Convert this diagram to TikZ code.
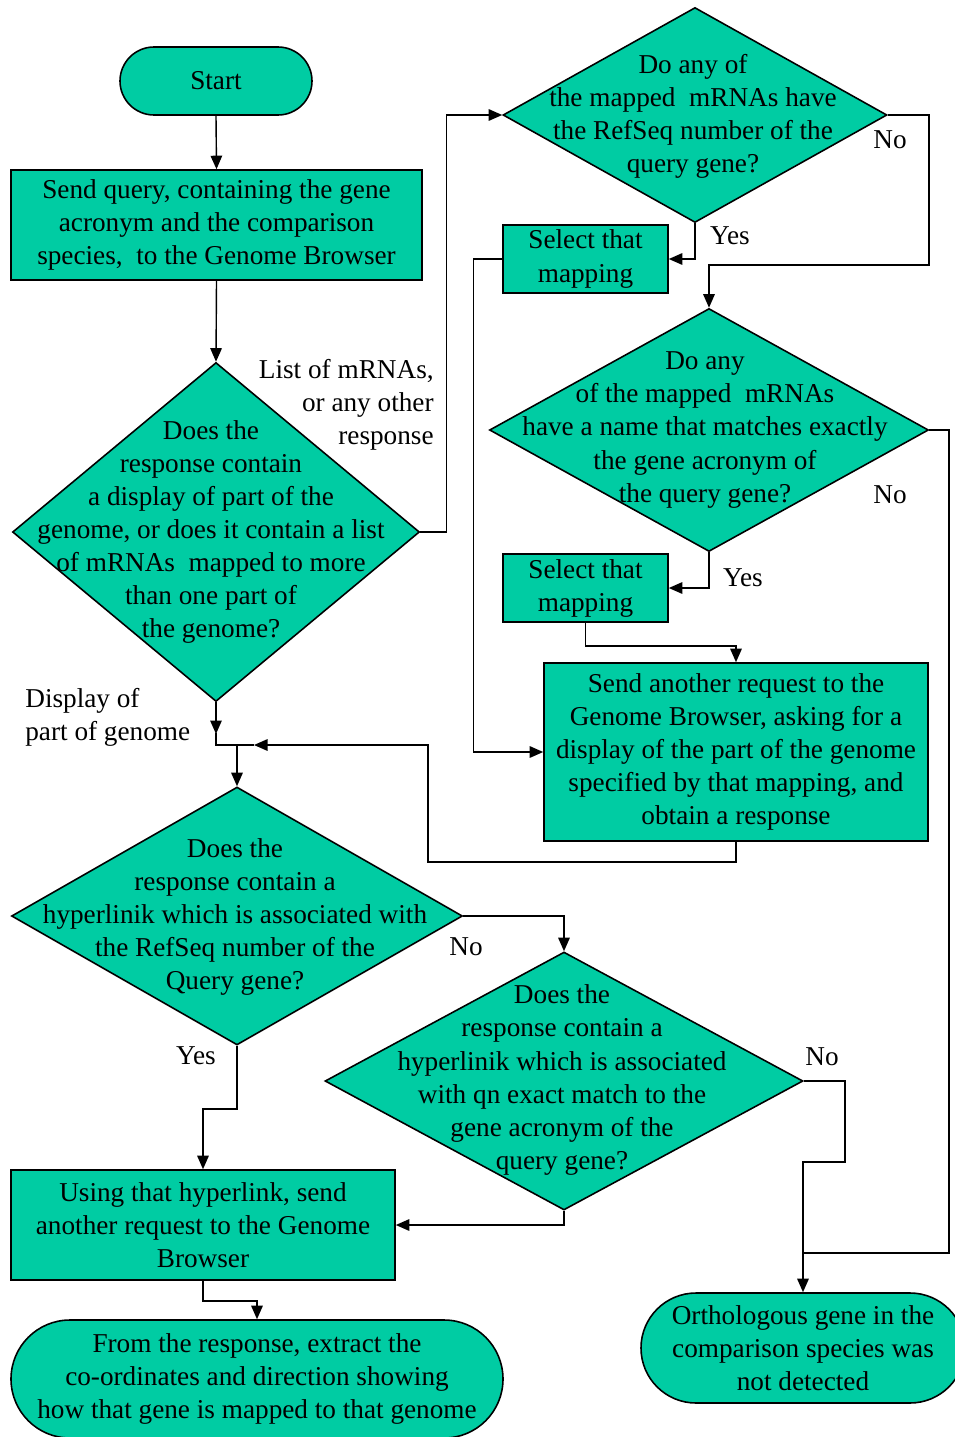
\documentclass[tikz,border=0pt]{standalone}
\usepackage{fontspec}
\setmainfont{Liberation Serif}
\usetikzlibrary{shapes.geometric,arrows.meta,calc}
\definecolor{flowgreen}{RGB}{0,204,163}

\begin{document}
\begin{tikzpicture}[x=0.02cm,y=-0.02cm,
  base/.style={draw=black, fill=flowgreen, line width=0.9pt},
  txt/.style={align=center, inner sep=0pt, font=\fontsize{15.5}{18.8}\selectfont},
  procbox/.style={base, rectangle, inner sep=0pt, txt},
  decide/.style={base, diamond, inner sep=0pt},
  term/.style={base, rectangle, inner sep=0pt, txt},
  lbl/.style={txt},
  flow/.style={line width=0.8pt, -{Triangle[length=2.7mm,width=2.3mm]}},
  link/.style={line width=0.8pt}]
\useasboundingbox (0,0) rectangle (955,1437);

% ---------- terminals and process boxes ----------
\node[term, minimum width=192*0.02cm, minimum height=68*0.02cm, rounded corners=34*0.02cm] (start) at (216,81) {Start};
\node[procbox, minimum width=411*0.02cm, minimum height=110*0.02cm] (box1) at (216.5,225)
  {Send query, containing the gene\\ acronym and the comparison\\ species,~ to the Genome Browser};
\node[procbox, minimum width=165*0.02cm, minimum height=68*0.02cm] (sel1) at (585.5,259) {Select that\\ mapping};
\node[procbox, minimum width=165*0.02cm, minimum height=68*0.02cm] (sel2) at (585.5,588) {Select that\\ mapping};
\node[procbox, minimum width=384*0.02cm, minimum height=178*0.02cm] (box3) at (736,752)
  {Send another request to the\\ Genome Browser, asking for a\\ display of the part of the genome\\ specified by that mapping, and\\ obtain a response};
\node[procbox, minimum width=384*0.02cm, minimum height=110*0.02cm] (box4) at (203,1225)
  {Using that hyperlink, send\\ another request to the Genome\\ Browser};
\node[term, minimum width=492*0.02cm, minimum height=118*0.02cm, rounded corners=59*0.02cm] (end1) at (257,1379)
  {From the response, extract the\\ co-ordinates and direction showing\\ how that gene is mapped to that genome};
\node[term, minimum width=324*0.02cm, minimum height=110*0.02cm, rounded corners=55*0.02cm] (end2) at (803,1348)
  {Orthologous gene in the\\ comparison species was\\ not detected};

% ---------- decisions ----------
\node[decide, minimum width=407*0.02cm, minimum height=339*0.02cm] (d1) at (216,532) {};
\node[lbl] (d1t) at (211,532) {Does the\\ response contain\\ a display of part of the\\ genome, or does it contain a list\\ of mRNAs~ mapped to more\\ than one part of\\ the genome?};
\node[decide, minimum width=384*0.02cm, minimum height=215*0.02cm] (d2) at (695,115) {};
\node[lbl] (d2t) at (693,116) {Do any of\\ the mapped~ mRNAs have\\ the RefSeq number of the\\ query gene?};
\node[decide, minimum width=439*0.02cm, minimum height=243*0.02cm] (d3) at (709,430) {};
\node[lbl] (d3t) at (705,430) {Do any\\ of the mapped~ mRNAs\\ have a name that matches exactly\\ the gene acronym of\\ the query gene?};
\node[decide, minimum width=451*0.02cm, minimum height=258*0.02cm] (d4) at (237,916) {};
\node[lbl] (d4t) at (235,917) {Does the\\ response contain a\\ hyperlinik which is associated with\\ the RefSeq number of the\\ Query gene?};
\node[decide, minimum width=478*0.02cm, minimum height=258*0.02cm] (d5) at (564,1081) {};
\node[lbl] (d5t) at (562,1080) {Does the\\ response contain a\\ hyperlinik which is associated\\ with qn exact match to the\\ gene acronym of the\\ query gene?};

% ---------- branch labels ----------
\node[lbl, align=right, anchor=east] (l1) at (434,405) {List of mRNAs,\\ or any other\\ response};
\node[lbl, align=left, anchor=west] (l2) at (25,717) {Display of\\ part of genome};
\node[lbl] (l3) at (890,140) {No};
\node[lbl] (l4) at (730,236) {Yes};
\node[lbl] (l5) at (890,495) {No};
\node[lbl] (l6) at (743,578) {Yes};
\node[lbl] (l7) at (466,947) {No};
\node[lbl] (l8) at (196,1056) {Yes};
\node[lbl] (l9) at (822,1057) {No};

% ---------- junction points ----------
\coordinate (split) at (216,745);
\coordinate (loopin) at (254,745);
\coordinate (merge) at (803,1253);

% ---------- connectors ----------
\draw[flow] (start.south) -- (box1.north);
\draw[flow] (box1.south) -- (d1.north);
\draw[flow] (d1.east) -- ++(26,0) |- (d2.west);
\draw[flow] (d2.south) |- (sel1.east);
\draw[flow] (d2.east) -- ++(41,0) -- ++(0,150) -| (d3.north);
\draw[flow] (d3.south) |- (sel2.east);
\draw[flow] (sel2.south) -- ++(0,23) -| (box3.north);
\draw[flow] (sel1.west) -- ++(-29,0) |- (box3.west);
\draw[link] (d3.east) -- ++(19.5,0) |- (merge);
\draw[flow] (box3.south) -- ++(0,20) -- ++(-308,0) |- (loopin);
\draw[flow] (d1.south) -- ($(split)+(0,-11)$);
\draw[link] ($(split)+(0,-12)$) -- (split) -- (loopin);
\draw[flow] (d4.north |- split) -- (d4.north);
\draw[flow] (d4.east) -| (d5.north);
\draw[flow] (d4.south) -- ++(0,63) -| (box4.north);
\draw[flow] (d5.south) |- (box4.east);
\draw[flow] (d5.east) -- ++(41,0) -- ++(0,81) -| (end2.north);
\draw[flow] (box4.south) -- ++(0,20) -| (end1.north);
\end{tikzpicture}
\end{document}
